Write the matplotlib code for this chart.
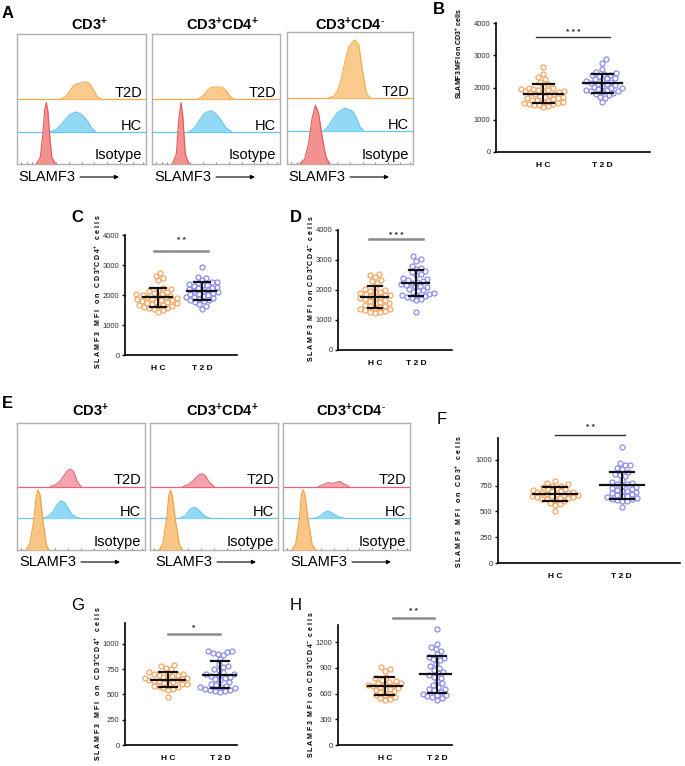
import numpy as np
import matplotlib.pyplot as plt

plt.rcParams['font.family'] = ['Liberation Sans', 'DejaVu Sans']
plt.rcParams['mathtext.fontset'] = 'custom'
plt.rcParams['mathtext.rm'] = 'Liberation Sans'
plt.rcParams['mathtext.bf'] = 'Liberation Sans:bold'
plt.rcParams['mathtext.it'] = 'Liberation Sans:italic'

W, H = 685, 766

# ---------------- flow histograms (x = channel, h = height above its baseline) ----------------
# panel A
a1_iso_x = [15, 18, 20, 21.5, 22.8, 24, 25.5, 27, 30]
a1_iso_h = [0, 0.2, 0.9, 1.7, 1.89, 1.6, 0.8, 0.2, 0]
a1_hc_x = [26, 30, 34, 38, 41, 44, 46, 49, 52, 55, 58, 61]
a1_hc_h = [0, 0.05, 0.2, 0.4, 0.52, 0.57, 0.6, 0.55, 0.45, 0.3, 0.1, 0]
a1_t2d_x = [34, 38, 41, 44, 47, 50, 53, 56, 59, 62, 65]
a1_t2d_h = [0, 0.08, 0.25, 0.42, 0.47, 0.5, 0.53, 0.48, 0.3, 0.08, 0]

a2_iso_x = [16, 19, 21, 22.6, 24, 26, 29]
a2_iso_h = [0, 0.3, 1.4, 1.89, 1.5, 0.3, 0]
a2_hc_x = [29, 33, 37, 41, 44, 46, 49, 52, 55, 58, 62]
a2_hc_h = [0, 0.1, 0.35, 0.55, 0.62, 0.64, 0.58, 0.45, 0.28, 0.1, 0]
a2_t2d_x = [36, 40, 43, 46, 49, 52, 55, 58, 61, 64]
a2_t2d_h = [0, 0.1, 0.25, 0.35, 0.37, 0.37, 0.36, 0.25, 0.08, 0]

a3_iso_x = [10, 14, 17, 20, 22.5, 25, 28, 31, 34]
a3_iso_h = [0, 0.15, 0.6, 1.4, 1.78, 1.55, 0.8, 0.2, 0]
a3_hc_x = [29, 33, 37, 40, 43, 46, 49, 52, 55, 58, 61]
a3_hc_h = [0, 0.15, 0.4, 0.55, 0.63, 0.69, 0.65, 0.6, 0.4, 0.12, 0]
a3_t2d_x = [33, 37, 40, 43, 46, 49, 52, 54, 57, 60, 63, 66]
a3_t2d_h = [0, 0.05, 0.2, 0.55, 1.1, 1.55, 1.7, 1.76, 1.6, 0.8, 0.15, 0]

# panel E
e1_iso_x = [7, 10, 13, 15, 16.4, 18, 20, 23, 25]
e1_iso_h = [0, 0.2, 0.9, 1.7, 1.89, 1.75, 1.0, 0.15, 0]
e1_hc_x = [20, 24, 28, 31, 34, 37, 40, 43, 46, 49]
e1_hc_h = [0, 0.05, 0.2, 0.4, 0.55, 0.5, 0.3, 0.12, 0.03, 0]
e1_t2d_x = [26, 30, 33, 36, 39, 41, 43, 45, 47, 50]
e1_t2d_h = [0, 0.05, 0.15, 0.3, 0.48, 0.54, 0.52, 0.4, 0.15, 0]

e2_iso_x = [7, 10, 13, 14.8, 16, 17.5, 20, 23, 25.5]
e2_iso_h = [0, 0.2, 1.0, 1.75, 1.89, 1.7, 0.9, 0.15, 0]
e2_hc_x = [24, 28, 31, 34, 37, 40, 43, 47]
e2_hc_h = [0, 0.1, 0.28, 0.34, 0.3, 0.18, 0.06, 0]
e2_t2d_x = [26, 30, 34, 38, 40.3, 43, 46, 50]
e2_t2d_h = [0, 0.06, 0.2, 0.36, 0.4, 0.35, 0.15, 0]

e3_iso_x = [7, 10, 13, 14.5, 15.8, 17.5, 20, 23, 26]
e3_iso_h = [0, 0.2, 1.0, 1.75, 1.89, 1.7, 0.9, 0.15, 0]
e3_hc_x = [25, 29, 32, 35, 38, 41, 44, 48]
e3_hc_h = [0, 0.06, 0.17, 0.23, 0.18, 0.1, 0.04, 0]
e3_t2d_x = [28, 32, 35.5, 39, 42, 44.7, 47, 52]
e3_t2d_h = [0, 0.06, 0.12, 0.1, 0.13, 0.16, 0.1, 0]

titles = [r'CD3$^{\mathbf{+}}$', r'CD3$^{\mathbf{+}}$CD4$^{\mathbf{+}}$', r'CD3$^{\mathbf{+}}$CD4$^{\mathbf{\text{-}}}$']
groups = ['H C', 'T 2 D']

# ---------------- MFI scatter values ----------------
b_hc = [2650, 2420, 2320, 2250, 2180, 2100, 2050, 2000, 1980, 1960, 1950, 1930, 1920, 1900, 1880,
        1870, 1850, 1830, 1810, 1790, 1770, 1750, 1720, 1700, 1680, 1660, 1650, 1620, 1600, 1580,
        1560, 1550, 1530, 1520, 1500, 1480, 1460, 1450, 1420, 1380]
b_t2d = [2880, 2760, 2560, 2480, 2450, 2420, 2400, 2380, 2350, 2300, 2280, 2250, 2220, 2200, 2180,
         2150, 2120, 2100, 2080, 2050, 2020, 2000, 1980, 1950, 1930, 1920, 1900, 1880, 1850, 1820,
         1800, 1780, 1700, 1680, 1540]
c_hc = [2720, 2650, 2560, 2500, 2220, 2200, 2180, 2150, 2100, 2080, 2050, 2020, 2000, 1980, 1960,
        1940, 1920, 1900, 1880, 1860, 1840, 1820, 1800, 1780, 1760, 1740, 1720, 1700, 1680, 1660,
        1640, 1620, 1600, 1580, 1560, 1540, 1500, 1450]
c_t2d = [2950, 2600, 2580, 2500, 2450, 2420, 2400, 2380, 2350, 2320, 2300, 2280, 2250, 2220, 2200,
         2180, 2150, 2120, 2100, 2080, 2050, 2020, 2000, 1980, 1950, 1920, 1900, 1880, 1850, 1820,
         1800, 1780, 1700, 1650, 1550]
d_hc = [2530, 2500, 2450, 2350, 2300, 2250, 2100, 2050, 2000, 1980, 1950, 1920, 1900, 1880, 1850,
        1820, 1800, 1780, 1750, 1720, 1700, 1650, 1620, 1600, 1580, 1550, 1500, 1480, 1450, 1420,
        1400, 1380, 1350, 1320, 1300, 1280, 1250, 1230]
d_t2d = [3120, 3020, 2980, 2800, 2750, 2700, 2650, 2600, 2550, 2500, 2400, 2380, 2350, 2300, 2280,
         2250, 2200, 2180, 2150, 2120, 2100, 2050, 2000, 1980, 1950, 1900, 1880, 1850, 1820, 1800,
         1780, 1750, 1700, 1650, 1270]
f_hc = [790, 770, 760, 750, 750, 740, 730, 720, 720, 710, 700, 700, 690, 690, 680, 680, 670, 670,
        660, 660, 650, 650, 640, 640, 630, 630, 620, 620, 610, 600, 580, 570, 560, 500]
f_t2d = [1120, 970, 950, 950, 920, 910, 880, 860, 850, 840, 800, 780, 770, 760, 760, 750, 740, 730,
         720, 710, 700, 700, 690, 680, 670, 660, 650, 650, 640, 630, 620, 620, 610, 600, 600, 540]
g_hc = [790, 780, 760, 750, 720, 710, 700, 700, 690, 690, 680, 670, 660, 660, 650, 650, 640, 640,
        630, 630, 620, 610, 600, 600, 590, 580, 580, 570, 560, 550, 540, 470]
g_t2d = [930, 925, 920, 910, 900, 890, 850, 800, 780, 770, 750, 740, 720, 700, 700, 690, 680, 670,
         660, 650, 640, 620, 600, 590, 580, 575, 570, 560, 550, 545, 540, 535, 530, 525]
h_hc = [910, 890, 870, 800, 780, 760, 750, 740, 730, 720, 710, 700, 700, 690, 680, 670, 660, 650,
        640, 630, 620, 600, 590, 580, 560, 550, 540, 530]
h_t2d = [1350, 1180, 1150, 1120, 1100, 1060, 1030, 1020, 1000, 990, 950, 920, 900, 880, 850, 840,
         820, 800, 780, 750, 720, 700, 680, 660, 650, 640, 620, 600, 590, 580, 570, 560, 550, 530]

HC_COL = '#f7a765'
T2D_COL = '#8c8cf2'

fig = plt.figure(figsize=(W / 100, H / 100), dpi=100)


def rect(l, t, r, b):
    return [l / W, 1 - b / H, (r - l) / W, (b - t) / H]


def ftext(x, y, s, **kw):
    fig.text(x / W, 1 - y / H, s, **kw)


def flow_box(r, curves, cols):
    ax = fig.add_axes(rect(*r))
    ax.set_xlim(0, 100)
    ax.set_ylim(0, 4)
    ax.axhline(1, color=cols[1][1], lw=0.9, zorder=1)
    ax.axhline(2, color=cols[2][1], lw=0.9, zorder=1)
    for k in [2, 1, 0]:
        x, h = curves[k]
        top = np.add(h, k)
        ax.fill_between(x, k, top, color=cols[k][0], lw=0, zorder=2 + (2 - k))
        ax.plot(x, top, color=cols[k][1], lw=0.8, zorder=2 + (2 - k))
    ax.text(97, 2.07, 'T2D', ha='right', va='baseline', fontsize=10.5)
    ax.text(97, 1.06, 'HC', ha='right', va='baseline', fontsize=10.5)
    ax.text(97, 0.14, 'Isotype', ha='right', va='baseline', fontsize=10.5)
    for s in ax.spines.values():
        s.set_color('#b0b0b0')
        s.set_linewidth(1)
    ax.set_yticks([])
    ax.set_xticks([3, 8, 12, 16, 20, 24, 30, 40, 50, 60, 70, 80, 90, 98])
    ax.set_xticklabels([])
    ax.tick_params(axis='x', length=1.5, width=0.6, color='#666666', direction='in')
    return ax


a_cols = [('#f39090', '#e5555a'), ('#91d9f5', '#63c6ee'), ('#fbca8d', '#f5aa48')]
e_cols = [('#f9c584', '#f0a040'), ('#91d9f5', '#63c6ee'), ('#f4a3ae', '#e66475')]

a_boxes = [(17, 34, 146, 164), (152, 34, 280, 164), (287, 32, 413, 164)]
e_boxes = [(17, 423, 145, 550), (150, 423, 278, 550), (283, 423, 410, 550)]
a_curves = [[(a1_iso_x, a1_iso_h), (a1_hc_x, a1_hc_h), (a1_t2d_x, a1_t2d_h)],
            [(a2_iso_x, a2_iso_h), (a2_hc_x, a2_hc_h), (a2_t2d_x, a2_t2d_h)],
            [(a3_iso_x, a3_iso_h), (a3_hc_x, a3_hc_h), (a3_t2d_x, a3_t2d_h)]]
e_curves = [[(e1_iso_x, e1_iso_h), (e1_hc_x, e1_hc_h), (e1_t2d_x, e1_t2d_h)],
            [(e2_iso_x, e2_iso_h), (e2_hc_x, e2_hc_h), (e2_t2d_x, e2_t2d_h)],
            [(e3_iso_x, e3_iso_h), (e3_hc_x, e3_hc_h), (e3_t2d_x, e3_t2d_h)]]

for boxes, curves, cols, tcx, ty, sx, sy in [
        (a_boxes, a_curves, a_cols, [89, 222, 350], 25, [18, 154, 288], 177),
        (e_boxes, e_curves, e_cols, [90, 222, 351], 411, [19, 155, 290], 562)]:
    for i in range(3):
        flow_box(boxes[i], curves[i], cols)
        ftext(tcx[i], ty, titles[i], ha='center', va='center', fontsize=10.5, fontweight='bold')
        ftext(sx[i], sy, 'SLAMF3', ha='left', va='center', fontsize=10.5)
        fig.add_artist(plt.Annotation('', xy=((sx[i] + 101) / W, 1 - sy / H),
                                      xytext=((sx[i] + 62) / W, 1 - sy / H),
                                      xycoords='figure fraction',
                                      arrowprops=dict(arrowstyle='-|>', lw=0.8, color='k',
                                                      mutation_scale=6, shrinkA=0, shrinkB=0)))


def swarm(vals, ax, xlim, ylim, d=5.1):
    bb = ax.get_position()
    sx = bb.width * W / (xlim[1] - xlim[0])
    sy = bb.height * H / (ylim[1] - ylim[0])
    ys = np.asarray(vals, float) * sy
    px, py = [], []
    out = np.zeros(len(vals))
    for i in np.argsort(ys):
        y = ys[i]
        cands = [0.0]
        for xj, yj in zip(px, py):
            dy = abs(y - yj)
            if dy < d:
                dx = np.sqrt(d * d - dy * dy)
                cands += [xj + dx, xj - dx]
        cands.sort(key=abs)
        for c in cands:
            if all((c - xj) ** 2 + (y - yj) ** 2 >= d * d - 1e-6 for xj, yj in zip(px, py)):
                break
        px.append(c)
        py.append(y)
        out[i] = c / sx
    return out


def dot_panel(r, hc, t2d, xlim, ylim, yticks, ylabel, ylab_xy, ylab_size,
              sig_x, sig_y, stars, star_y, sig_col, sig_lw):
    ax = fig.add_axes(rect(*r))
    ax.set_xlim(*xlim)
    ax.set_ylim(*ylim)
    for pos, vals, col in [(1, hc, HC_COL), (2, t2d, T2D_COL)]:
        off = swarm(vals, ax, xlim, ylim)
        ax.plot(pos + off, vals, 'o', mfc='none', mec=col, ms=3.6, mew=0.9, clip_on=False, zorder=2)
        m = np.mean(vals)
        sd = np.std(vals, ddof=1)
        ax.plot([pos - 0.33, pos + 0.33], [m, m], color='#111111', lw=1.6, zorder=3)
        ax.plot([pos, pos], [m - sd, m + sd], color='#111111', lw=1.4, zorder=3)
        for yv in [m - sd, m + sd]:
            ax.plot([pos - 0.18, pos + 0.18], [yv, yv], color='#111111', lw=1.6, zorder=3)
    ax.plot(sig_x, [sig_y, sig_y], color=sig_col, lw=sig_lw, clip_on=False)
    ax.text(np.mean(sig_x), star_y, stars, ha='center', va='center', fontsize=6,
            fontweight='bold', color='#222222')
    ax.set_xticks([1, 2])
    ax.set_xticklabels(groups, fontsize=6, fontweight='bold')
    ax.set_yticks(yticks)
    ax.set_yticklabels([str(t) for t in yticks], fontsize=5.5, color='#333333')
    ax.tick_params(axis='x', length=0, pad=7)
    ax.tick_params(axis='y', length=2.5, width=1, pad=1.5)
    for s in ['top', 'right']:
        ax.spines[s].set_visible(False)
    for s in ['left', 'bottom']:
        ax.spines[s].set_linewidth(1.2)
    ftext(ylab_xy[0], ylab_xy[1], ylabel, rotation=90, ha='center', va='center',
          fontsize=ylab_size, fontweight='bold')
    return ax


lab_cd3 = r'S L A M F 3   M F I   o n   C D 3$^{\mathbf{+}}$   c e l l s'
lab_cd4p = r'S L A M F 3   M F I   o n   C D 3$^{\mathbf{+}}$C D 4$^{\mathbf{+}}$   c e l l s'
lab_cd4m = r'S L A M F 3  M F I  o n  C D 3$^{\mathbf{+}}$C D 4$^{\mathbf{-}}$  c e l l s'

dot_panel((496, 23, 650, 152), b_hc, b_t2d, (0.2, 2.81), (0, 4000), [0, 1000, 2000, 3000, 4000],
          r'SLAMF3 MFI on CD3$^{\mathbf{+}}$ cells', (459, 54), 5,
          [0.87, 2.14], 3560, '* * *', 3720, '#333333', 1.0)
dot_panel((125, 235, 237, 355), c_hc, c_t2d, (0.25, 2.8), (0, 4000), [0, 1000, 2000, 3000, 4000],
          lab_cd4p, (98, 292), 5, [0.91, 2.14], 3467, '* *', 3800, '#8a8a8a', 1.8)
dot_panel((338, 230, 452, 350), d_hc, d_t2d, (0.1, 2.88), (0, 4000), [0, 1000, 2000, 3000, 4000],
          lab_cd4m, (311, 289), 5, [0.85, 2.17], 3700, '* * *', 3830, '#8a8a8a', 1.8)
dot_panel((498, 438, 680, 563), f_hc, f_t2d, (0.15, 2.87), (0, 1210), [0, 250, 500, 750, 1000],
          lab_cd3, (459, 501), 5, [1.0, 2.05], 1235, '* *', 1307, '#333333', 1.0)
dot_panel((125, 623, 237, 745), g_hc, g_t2d, (0.17, 2.33), (0, 1205), [0, 250, 500, 750, 1000],
          lab_cd4p, (98, 684), 5, [1.0, 2.0], 1100, '*', 1155, '#8a8a8a', 1.8)
dot_panel((338, 625, 452, 745), h_hc, h_t2d, (0.1, 2.29), (0, 1402), [0, 300, 600, 900, 1200],
          lab_cd4m, (311, 685), 5, [1.15, 1.94], 1480, '* *', 1554, '#8a8a8a', 1.8)

# panel letters
for letter, x, y, wt in [('A', 2, 13, 'bold'), ('B', 433, 9, 'bold'), ('C', 71, 217, 'bold'),
                         ('D', 290, 218, 'bold'), ('E', 2, 403, 'bold'), ('F', 437, 419, 'normal'),
                         ('G', 71, 606, 'normal'), ('H', 290, 606, 'normal')]:
    ftext(x, y, letter, ha='left', va='center', fontsize=12, fontweight=wt)

fig.savefig('out.png', dpi=100)
